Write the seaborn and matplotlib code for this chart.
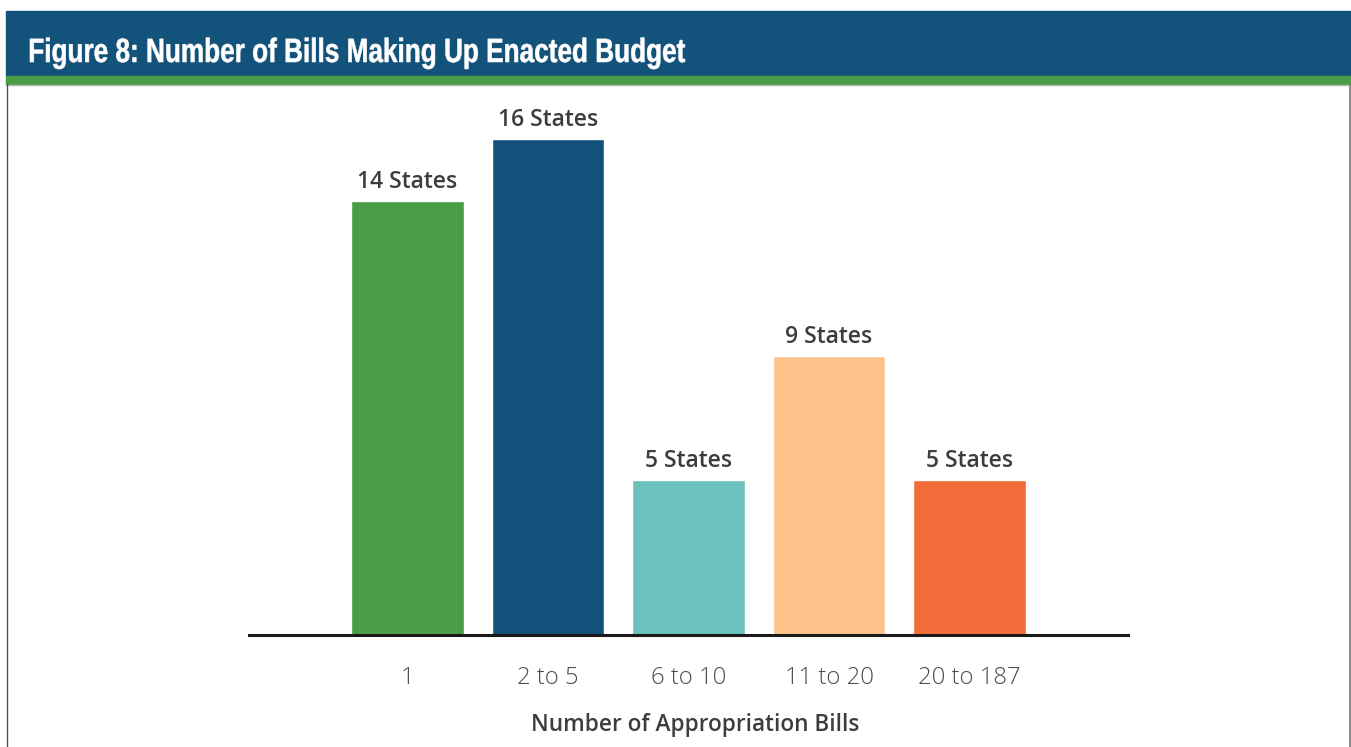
import matplotlib
matplotlib.use("Agg")
import matplotlib.pyplot as plt
from matplotlib.patches import Rectangle, PathPatch
from matplotlib.lines import Line2D
from matplotlib.textpath import TextPath
from matplotlib.font_manager import FontProperties
from matplotlib.transforms import Affine2D
import seaborn as sns
import pandas as pd

# Data
categories = ["1", "2 to 5", "6 to 10", "11 to 20", "20 to 187"]
states = [14, 16, 5, 9, 5]
bar_colors = ["#4a9e45", "#13527a", "#6cc1bc", "#fcc38b", "#f26b38"]

title_text = "Figure 8: Number of Bills Making Up Enacted Budget"
xlabel_text = "Number of Appropriation Bills"

sns.set_style("white")
plt.rcParams["font.family"] = ["Open Sans", "DejaVu Sans"]

W, H = 1351, 747
fig = plt.figure(figsize=(W / 100, H / 100), dpi=100)

def fx(px):
    return px / W

def fy(py):
    return 1 - py / H

# Header banner, green stripe and frame
fig.patches.append(Rectangle((fx(6), fy(76)), fx(1351 - 6), 65 / H,
                             transform=fig.transFigure, color="#13527a", zorder=0))
fig.patches.append(Rectangle((fx(6), fy(84)), fx(1351 - 6), 8 / H,
                             transform=fig.transFigure, color="#4a9e45", zorder=0))
fig.lines.append(Line2D([fx(6), fx(1351)], [fy(84.5), fy(84.5)],
                        transform=fig.transFigure, color="#b5b5b5", lw=1))
fig.lines.append(Line2D([fx(6.5), fx(6.5)], [fy(84), 0],
                        transform=fig.transFigure, color="#555555", lw=1))
fig.lines.append(Line2D([fx(1350), fx(1350)], [fy(84), 0],
                        transform=fig.transFigure, color="#777777", lw=1.2))

# Condensed bold title: a text path squeezed horizontally
title_fp = FontProperties(family="Liberation Sans", weight="bold")
title_path = TextPath((0, 0), title_text, size=100, prop=title_fp)
ext = title_path.get_extents()
sx = 655 / ext.width
sy = 24.5 / 72.9
title_tr = (Affine2D().translate(-ext.x0, 0).scale(sx / W, sy / H)
            .translate(fx(30), fy(62)) + fig.transFigure)
fig.patches.append(PathPatch(title_path, transform=title_tr, facecolor="white",
                             edgecolor="white", linewidth=0.4, zorder=2))

# Plot area
ax_left, ax_right = 249, 1128
ax_top, ax_bottom = 100, 635
px_per_state = 31.0
ax = fig.add_axes([fx(ax_left), fy(ax_bottom), fx(ax_right - ax_left),
                   (ax_bottom - ax_top) / H])

df = pd.DataFrame({"bills": categories, "states": states})
sns.barplot(data=df, x="bills", y="states", hue="bills", palette=bar_colors,
            width=0.8, legend=False, ax=ax, saturation=1)

ax.set_xlim(-1.128, 5.128)
ax.set_ylim(0, (ax_bottom - ax_top) / px_per_state)

for i, v in enumerate(states):
    ax.annotate(f"{v} States", (i, v), xytext=(0, 5), textcoords="offset points",
                ha="center", va="bottom", fontsize=16.5, fontweight="semibold",
                color="#3d3d3d")

ax.set_yticks([])
ax.set_ylabel("")
for side in ["top", "right", "left"]:
    ax.spines[side].set_visible(False)
ax.spines["bottom"].set_color("#1a1a1a")
ax.spines["bottom"].set_linewidth(2.2)
ax.tick_params(axis="x", length=0, pad=22, labelsize=17.2, labelcolor="#4d4d4d")
for lbl in ax.get_xticklabels():
    lbl.set_fontweight("light")
ax.set_xlabel(xlabel_text, fontsize=16.3, fontweight="semibold", color="#3d3d3d")
ax.xaxis.set_label_coords(0.5074, -0.146)
ax.patch.set_alpha(0)

fig.savefig("out.png", dpi=100)
